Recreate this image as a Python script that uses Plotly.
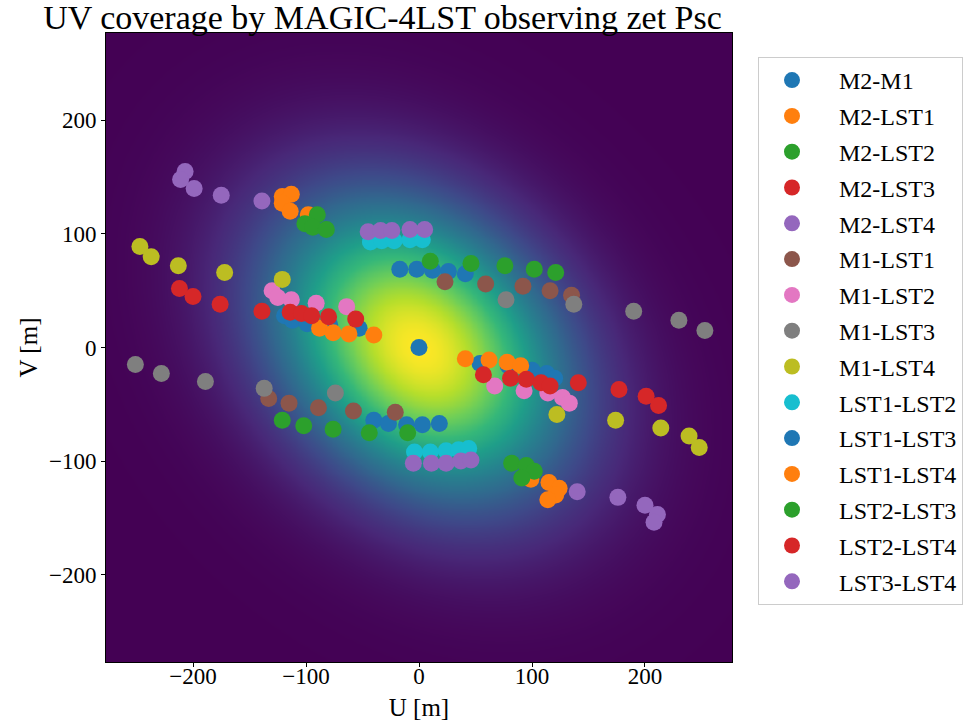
import numpy as np
import plotly.graph_objects as go

# ---- data (u, v in metres) ----
names = ["M2-M1", "M2-LST1", "M2-LST2", "M2-LST3", "M2-LST4",
         "M1-LST1", "M1-LST2", "M1-LST3", "M1-LST4",
         "LST1-LST2", "LST1-LST3", "LST1-LST4",
         "LST2-LST3", "LST2-LST4", "LST3-LST4"]

u_M2_M1 = [-17, -2, 12, 26, 41, -40, -27, -11, 3, 18]
v_M2_M1 = [69, 69, 68, 67, 65, -64, -67, -68, -68, -67]

u_M2_LST1 = [-121, -113, -121, -114, -98, 99, 115, 124, 121, 114]
v_M2_LST1 = [133, 135, 127, 120, 117, -116, -119, -124, -130, -134]

u_M2_LST2 = [-90, -101, -94, -82, 82, 95, 102, 91]
v_M2_LST2 = [117, 109, 106, 104, -102, -104, -109, -115]

u_M2_LST3 = [-212, -200, -176, -139, 141, 177, 201, 212]
v_M2_LST3 = [52, 45, 38, 32, -31, -37, -43, -51]

u_M2_LST4 = [-207, -211, -199, -175, -139, 140, 176, 200, 211, 208]
v_M2_LST4 = [155, 148, 140, 134, 129, -127, -132, -139, -147, -154]

u_M1_LST1 = [23, 59, 92, 116, 135, -133, -115, -89, -58, -21]
v_M1_LST1 = [58, 56, 54, 50, 46, -45, -49, -53, -56, -57]

u_M1_LST2 = [67, 93, 114, 127, 133, -130, -125, -113, -91, -64]
v_M1_LST2 = [-34, -38, -40, -44, -49, 50, 44, 42, 39, 36]

u_M1_LST3 = [77, 137, 190, 230, 253, -251, -228, -189, -137, -74]
v_M1_LST3 = [42, 38, 32, 24, 15, -15, -23, -30, -36, -40]

u_M1_LST4 = [122, 174, 214, 239, 248, -247, -237, -213, -172, -121]
v_M1_LST4 = [-59, -64, -71, -78, -88, 89, 80, 72, 66, 60]

u_LST1_LST2 = [-43, -33, -22, -8, 3, -4, 10, 24, 35, 44]
v_LST1_LST2 = [93, 94, 94, 95, 95, -92, -92, -91, -90, -89]

u_LST1_LST3 = [54, 79, 100, 113, 120, -119, -112, -99, -79, -53, 0]
v_LST1_LST3 = [-14, -16, -20, -23, -27, 28, 24, 21, 20, 17, 0]

u_LST1_LST4 = [41, 62, 78, 90, -88, -76, -62, -40]
v_LST1_LST4 = [-10, -11, -13, -16, 17, 13, 12, 11]

u_LST2_LST3 = [10, 46, 76, 102, 121, -121, -102, -76, -44, -10]
v_LST2_LST3 = [76, 74, 72, 69, 66, -64, -69, -72, -75, -75]

u_LST2_LST4 = [57, 81, 95, 108, 116, -114, -104, -95, -80, -56]
v_LST2_LST4 = [-24, -27, -28, -31, -34, 31, 30, 28, 27, 25]

u_LST3_LST4 = [-45, -34, -24, -8, 5, -5, 11, 24, 37, 46]
v_LST3_LST4 = [102, 103, 103, 104, 104, -102, -102, -102, -100, -99]

U_list = [u_M2_M1, u_M2_LST1, u_M2_LST2, u_M2_LST3, u_M2_LST4,
          u_M1_LST1, u_M1_LST2, u_M1_LST3, u_M1_LST4,
          u_LST1_LST2, u_LST1_LST3, u_LST1_LST4,
          u_LST2_LST3, u_LST2_LST4, u_LST3_LST4]
V_list = [v_M2_M1, v_M2_LST1, v_M2_LST2, v_M2_LST3, v_M2_LST4,
          v_M1_LST1, v_M1_LST2, v_M1_LST3, v_M1_LST4,
          v_LST1_LST2, v_LST1_LST3, v_LST1_LST4,
          v_LST2_LST3, v_LST2_LST4, v_LST3_LST4]

tick_vals = [-200, -100, 0, 100, 200]

# ---- background model (tilted 2D Gaussian) ----
extent = 277
sigma_major = 100.0
sigma_minor = 75.0
theta = np.deg2rad(-45.0)

grid = np.linspace(-extent, extent, 260)
GU, GV = np.meshgrid(grid, grid)
a = GU * np.cos(theta) + GV * np.sin(theta)
b = -GU * np.sin(theta) + GV * np.cos(theta)
Z = np.exp(-0.5 * ((a / sigma_major) ** 2 + (b / sigma_minor) ** 2))

colors = ["#1f77b4", "#ff7f0e", "#2ca02c", "#d62728", "#9467bd",
          "#8c564b", "#e377c2", "#7f7f7f", "#bcbd22", "#17becf"]

FONT = "Liberation Serif, Times New Roman, serif"

W, H = 965, 721
L, R, T, B = 106, 233, 33, 59
pw, ph = W - L - R, H - T - B

fig = go.Figure()
fig.add_trace(go.Heatmap(x=grid, y=grid, z=Z, colorscale="Viridis",
                         zmin=0, zmax=1, showscale=False, zsmooth="best",
                         hoverinfo="skip"))

for i, (nm, uu, vv) in enumerate(zip(names, U_list, V_list)):
    fig.add_trace(go.Scatter(
        x=uu, y=vv, mode="markers", name=nm, legendgroup=nm,
        marker=dict(size=17, color=colors[i % 10], line=dict(width=0)),
    ))

fig.update_layout(
    width=W, height=H,
    margin=dict(l=L, r=R, t=T, b=B, autoexpand=False),
    paper_bgcolor="white", plot_bgcolor="white",
    font=dict(family=FONT, size=23, color="black"),
    title=dict(text="UV coverage by MAGIC-4LST observing zet Psc",
               x=382.5 / W, xanchor="center", y=1 - 17 / H, yanchor="middle",
               yref="container", font=dict(size=34, family=FONT, color="black")),
    showlegend=True,
    legend=dict(x=(758 - L) / pw, y=(H - B - 57) / ph, xanchor="left", yanchor="top",
                bordercolor="#cccccc", borderwidth=1, bgcolor="white",
                font=dict(size=24, family=FONT), tracegroupgap=1.6,
                itemsizing="trace", indentation=-14, itemwidth=84),
)
fig.update_xaxes(range=[-extent, extent], tickvals=tick_vals,
                 ticks="outside", ticklen=4, tickcolor="black",
                 tickfont=dict(size=23, family=FONT),
                 ticklabelstandoff=-11,
                 showline=True, linecolor="black", linewidth=1, mirror=True,
                 showgrid=False, zeroline=False,
                 title=dict(text="U [m]", font=dict(size=25, family=FONT), standoff=15))
fig.update_yaxes(range=[-extent, extent], tickvals=tick_vals,
                 ticks="outside", ticklen=4, tickcolor="black",
                 tickfont=dict(size=23, family=FONT),
                 showline=True, linecolor="black", linewidth=1, mirror=True,
                 showgrid=False, zeroline=False,
                 title=dict(text="V [m]", font=dict(size=25, family=FONT), standoff=4))

fig.write_html("out.html", config={"displayModeBar": False},
               post_script="document.body.style.margin='0';document.body.style.padding='0';")
